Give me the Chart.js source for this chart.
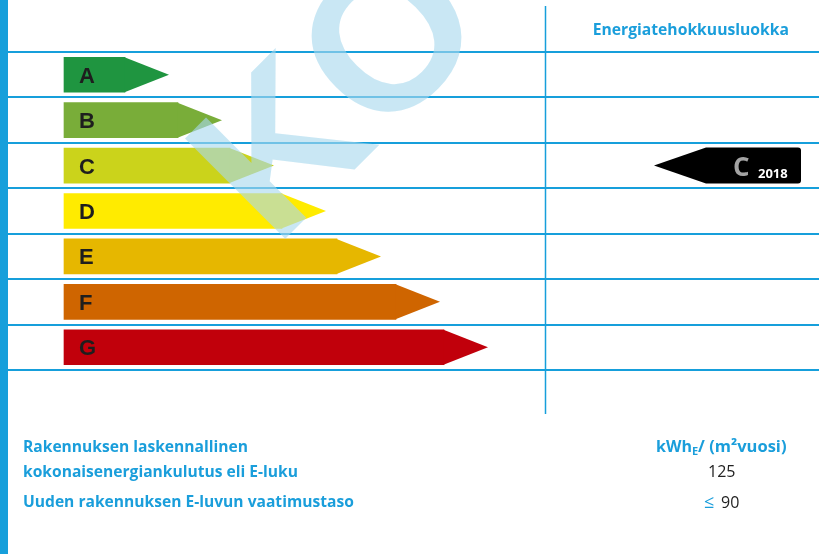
<!DOCTYPE html>
<html>
<head>
<meta charset="utf-8">
<script src="https://cdn.jsdelivr.net/npm/chart.js@4.4.1/dist/chart.umd.min.js"></script>
<style>
  html, body { margin: 0; padding: 0; background: #fff; }
</style>
</head>
<body>
<canvas id="energyChart" width="819" height="554"></canvas>
<script>
// energy classes and arrow body lengths (scale units)
const classes = ['A', 'B', 'C', 'D', 'E', 'F', 'G'];
const barLengths = [61, 114, 166, 218, 273, 332, 380];
const barColors = ['#1f9540', '#79ad39', '#cbd31b', '#ffeb00', '#e6b700', '#cf6500', '#c1000b'];
const rating = 'C';
const ratingYear = '2018';
const headerText = 'Energiatehokkuusluokka';
const rowLabels = ['Rakennuksen laskennallinen', 'kokonaisenergiankulutus eli E-luku', 'Uuden rakennuksen E-luvun vaatimustaso'];
const eValue = '125';
const requirementValue = '90';

const BLUE = '#169fdb';
const TEXT_BLUE = '#1a9edb';

const labelPlugin = {
  id: 'energyLabel',
  beforeDatasetsDraw(chart) {
    const ctx = chart.ctx;
    const y = chart.scales.y;
    const step = (y.getPixelForValue(1) - y.getPixelForValue(0));
    ctx.save();
    // left blue strip
    ctx.fillStyle = BLUE;
    ctx.fillRect(0, 0, 8, chart.height);
    // row lines
    ctx.strokeStyle = BLUE;
    ctx.lineWidth = 2;
    for (let i = 0; i <= classes.length; i++) {
      const py = Math.round(y.getPixelForValue(0) - step / 2 + i * step);
      ctx.beginPath();
      ctx.moveTo(8, py);
      ctx.lineTo(chart.width, py);
      ctx.stroke();
    }
    // column divider
    ctx.lineWidth = 1.5;
    ctx.beginPath();
    ctx.moveTo(545.5, 6);
    ctx.lineTo(545.5, 414);
    ctx.stroke();
    ctx.restore();
  },
  afterDatasetsDraw(chart) {
    const ctx = chart.ctx;
    const meta = chart.getDatasetMeta(0);
    const yScale = chart.scales.y;
    ctx.save();
    meta.data.forEach((bar, i) => {
      const h = bar.height;
      const tip = h * 44 / 35;
      ctx.fillStyle = barColors[i];
      ctx.beginPath();
      ctx.moveTo(bar.x - 0.5, bar.y - h / 2);
      ctx.lineTo(bar.x + tip, bar.y);
      ctx.lineTo(bar.x - 0.5, bar.y + h / 2);
      ctx.closePath();
      ctx.fill();
      ctx.fillStyle = '#1e1e1e';
      ctx.font = 'bold 22px "Liberation Sans", Arial, sans-serif';
      ctx.textBaseline = 'alphabetic';
      ctx.textAlign = 'left';
      ctx.fillText(classes[i], 79, bar.y + 8);
    });

    // rating marker
    const my = yScale.getPixelForValue(classes.indexOf(rating));
    const mh = 36, right = 801, tipX = 654, bodyX = 706, r = 3;
    ctx.fillStyle = '#000';
    ctx.beginPath();
    ctx.moveTo(tipX, my);
    ctx.lineTo(bodyX, my - mh / 2);
    ctx.lineTo(right - r, my - mh / 2);
    ctx.quadraticCurveTo(right, my - mh / 2, right, my - mh / 2 + r);
    ctx.lineTo(right, my + mh / 2 - r);
    ctx.quadraticCurveTo(right, my + mh / 2, right - r, my + mh / 2);
    ctx.lineTo(bodyX, my + mh / 2);
    ctx.closePath();
    ctx.fill();
    ctx.fillStyle = '#a3a3a3';
    ctx.font = 'bold 26px "Open Sans", sans-serif';
    ctx.fillText(rating, 733, my + 10);
    ctx.fillStyle = '#fff';
    ctx.font = 'bold 13px "Open Sans", sans-serif';
    ctx.fillText(ratingYear, 758, my + 12);

    // watermark
    ctx.fillStyle = 'rgba(168, 216, 238, 0.62)';
    ctx.font = 'bold 206px "Liberation Sans", Arial, sans-serif';
    ctx.translate(286, 238);
    ctx.rotate(-Math.PI / 4);
    ctx.fillText('KO', -15, 0);
    ctx.restore();
  },
  afterDraw(chart) {
    const ctx = chart.ctx;
    ctx.save();
    ctx.textBaseline = 'alphabetic';
    ctx.fillStyle = TEXT_BLUE;
    ctx.font = 'bold 15.7px "Open Sans", sans-serif';
    ctx.textAlign = 'right';
    ctx.fillText(headerText, 789, 35);

    ctx.textAlign = 'left';
    ctx.font = 'bold 15.6px "Open Sans", sans-serif';
    ctx.fillText(rowLabels[0], 23, 452);
    ctx.fillText(rowLabels[1], 23, 477);
    ctx.fillText(rowLabels[2], 23, 507);

    // unit
    let x = 656;
    ctx.font = 'bold 16px "Open Sans", sans-serif';
    ctx.fillText('kWh', x, 452);
    x += ctx.measureText('kWh').width;
    ctx.font = 'bold 11px "Open Sans", sans-serif';
    ctx.fillText('E', x, 455);
    x += ctx.measureText('E').width;
    ctx.font = 'bold 16.5px "Open Sans", sans-serif';
    ctx.fillText('/ (m²vuosi)', x, 452);

    ctx.fillStyle = '#222';
    ctx.font = '16px "Open Sans", sans-serif';
    ctx.fillText(eValue, 708, 477);
    ctx.fillStyle = TEXT_BLUE;
    ctx.font = '18px "Open Sans", sans-serif';
    ctx.fillText('≤', 704, 508);
    ctx.fillStyle = '#222';
    ctx.font = '16px "Open Sans", sans-serif';
    ctx.fillText(requirementValue, 721, 508);
    ctx.restore();
  }
};

new Chart(document.getElementById('energyChart'), {
  type: 'bar',
  data: {
    labels: classes,
    datasets: [{
      data: barLengths,
      backgroundColor: barColors,
      borderWidth: 0,
      barThickness: 35
    }]
  },
  options: {
    indexAxis: 'y',
    responsive: false,
    animation: false,
    layout: { padding: { top: 52, bottom: 184, left: 0, right: 0 } },
    scales: {
      x: { display: false, min: -64, max: 755 },
      y: { display: false }
    },
    plugins: {
      legend: { display: false },
      tooltip: { enabled: false }
    }
  },
  plugins: [labelPlugin]
});
</script>
</body>
</html>
